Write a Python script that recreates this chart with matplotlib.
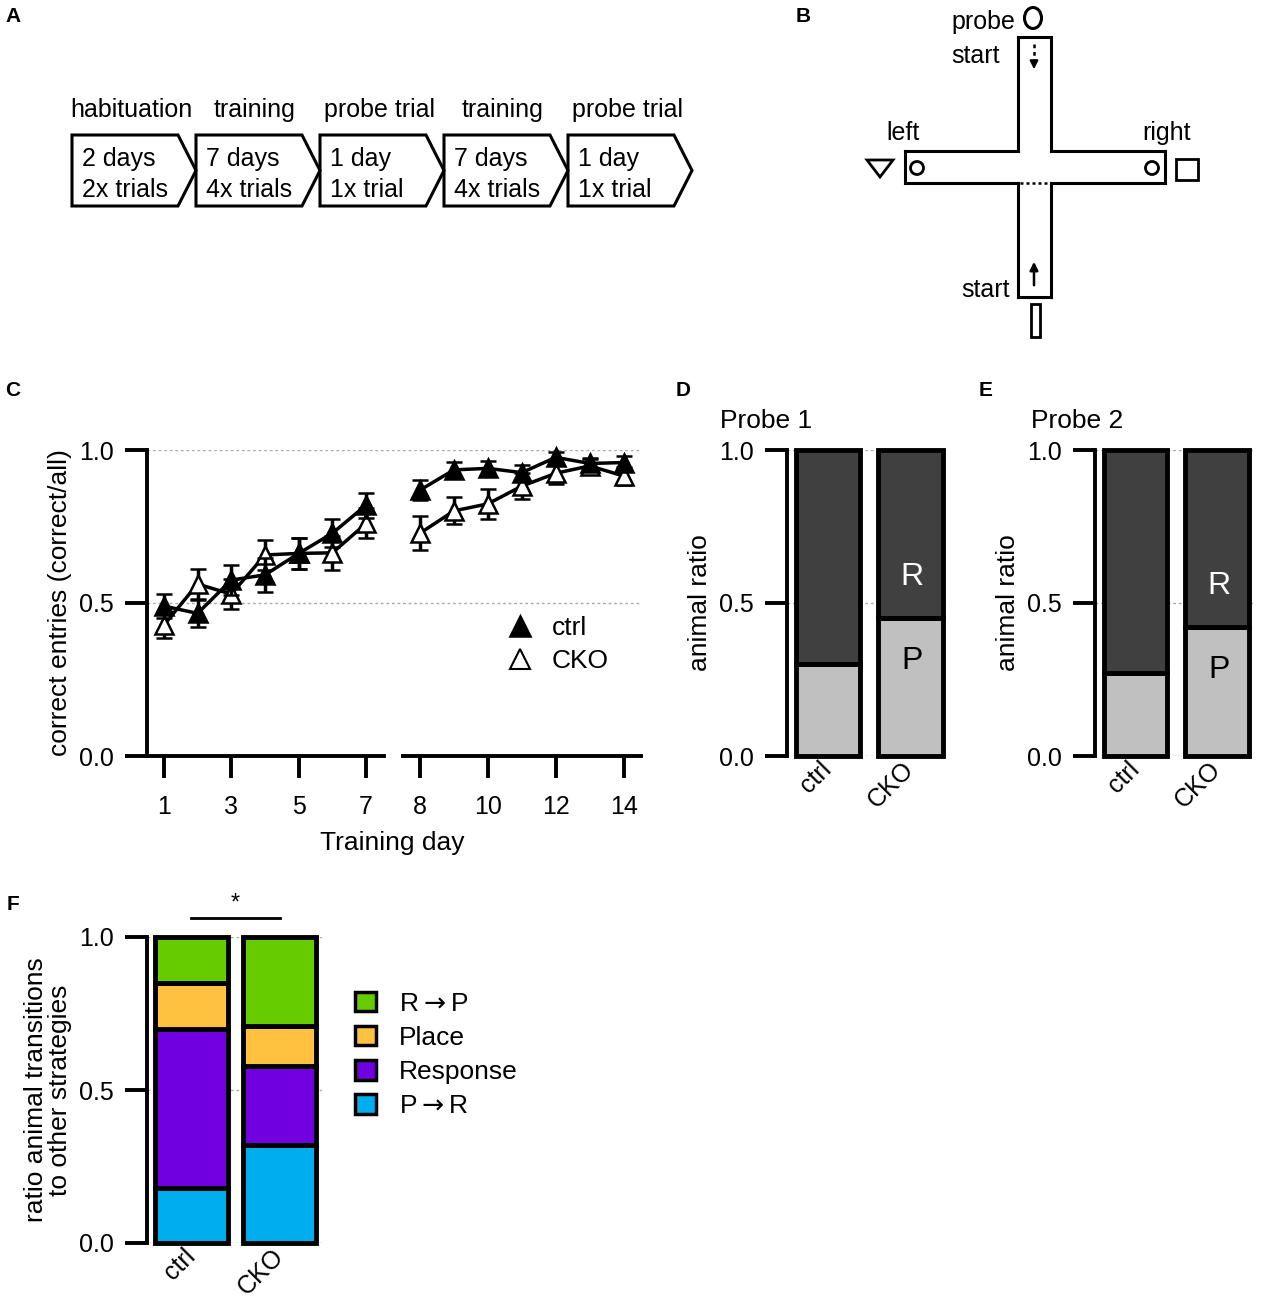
import numpy as np
import matplotlib
matplotlib.use('Agg')
import matplotlib.pyplot as plt
from matplotlib import font_manager
from matplotlib.patches import Polygon, Rectangle, Circle, Ellipse, Patch
from matplotlib.lines import Line2D

W, H = 1261, 1300

# A: protocol
stages = ['habituation', 'training', 'probe trial', 'training', 'probe trial']
durations = ['2 days', '7 days', '1 day', '7 days', '1 day']
trials = ['2x trials', '4x trials', '1x trial', '4x trials', '1x trial']

# C: correct entries per training day (mean, sem)
days = np.arange(1, 15)
ctrl_mean = np.array([0.49, 0.466, 0.575, 0.592, 0.662, 0.728, 0.82,
                      0.869, 0.935, 0.94, 0.926, 0.976, 0.956, 0.959])
ctrl_sem = np.array([0.04, 0.045, 0.049, 0.055, 0.05, 0.045, 0.041,
                     0.032, 0.027, 0.025, 0.025, 0.018, 0.015, 0.02])
cko_mean = np.array([0.428, 0.562, 0.529, 0.657, 0.662, 0.664, 0.76,
                     0.728, 0.801, 0.824, 0.882, 0.924, 0.948, 0.915])
cko_sem = np.array([0.044, 0.048, 0.05, 0.049, 0.05, 0.056, 0.049,
                    0.056, 0.044, 0.048, 0.043, 0.035, 0.025, 0.03])

# D/E: place (P) fraction, response (R) is the rest
groups = ['ctrl', 'CKO']
probe1_place = np.array([0.30, 0.45])
probe2_place = np.array([0.27, 0.42])

# F: transitions, stacked bottom -> top
strategies = ['P$\\rightarrow$R', 'Response', 'Place', 'R$\\rightarrow$P']
strategy_colors = ['#00AEEF', '#7000E0', '#FFC13F', '#66CC00']
ctrl_trans = [0.18, 0.52, 0.15, 0.15]
cko_trans = [0.32, 0.26, 0.13, 0.29]

names = {f.name for f in font_manager.fontManager.ttflist}
if 'Liberation Sans Narrow' in names:
    FONT, FS = 'Liberation Sans Narrow', 21
else:
    FONT, FS = 'Liberation Sans', 18
plt.rcParams['font.family'] = [FONT, 'DejaVu Sans']
plt.rcParams['font.size'] = FS

LW = 2.8
GRID = dict(color='#aaaaaa', lw=1.0, ls=(0, (2, 2)))


def box(x0, x1, y0, y1):
    return [x0 / W, 1 - y1 / H, (x1 - x0) / W, (y1 - y0) / H]


def fx(px):
    return px / W


def fy(py):
    return 1 - py / H


fig = plt.figure(figsize=(W / 100, H / 100), dpi=100)

# overlay in pixel coords for the two drawings
ax0 = fig.add_axes([0, 0, 1, 1])
ax0.set_xlim(0, W)
ax0.set_ylim(H, 0)
ax0.axis('off')

# ---- A
for i, (st, du, tr) in enumerate(zip(stages, durations, trials)):
    x0 = 72 + i * 124
    ax0.add_patch(Polygon([[x0, 135], [x0 + 106, 135], [x0 + 124, 170.5],
                           [x0 + 106, 206], [x0, 206]], closed=True,
                          fill=False, lw=2.2, ec='k', joinstyle='miter'))
    ax0.text(x0 + 59, 117, st, ha='center', va='baseline')
    ax0.text(x0 + 10, 166, du, ha='left', va='baseline')
    ax0.text(x0 + 10, 197, tr, ha='left', va='baseline')

# ---- B: cross maze
segs = [
    ([1018, 1018], [37, 151]), ([1051, 1051], [37, 151]), ([1018, 1051], [37, 37]),
    ([905, 1018], [151, 151]), ([1051, 1165], [151, 151]),
    ([905, 1018], [183, 183]), ([1051, 1165], [183, 183]),
    ([905, 905], [151, 183]), ([1165, 1165], [151, 183]),
    ([1018, 1018], [183, 297]), ([1051, 1051], [183, 297]), ([1018, 1051], [297, 297]),
]
for xs, ys in segs:
    ax0.plot(xs, ys, color='k', lw=2.2, solid_capstyle='projecting')
ax0.plot([1020, 1049], [183, 183], color='k', lw=1.8, ls=(0, (1.2, 1.2)))
ax0.add_patch(Circle((917, 168), 6.5, fill=False, lw=2, ec='k'))
ax0.add_patch(Circle((1152, 168), 6.5, fill=False, lw=2, ec='k'))
ax0.add_patch(Polygon([[867, 160], [893, 160], [880, 177]], closed=True, fill=False, lw=2, ec='k'))
ax0.add_patch(Rectangle((1176, 159), 22, 21, fill=False, lw=2, ec='k'))
ax0.add_patch(Ellipse((1033, 18), 17, 21, fill=False, lw=2.2, ec='k'))
ax0.add_patch(Rectangle((1031, 304), 9, 33, fill=False, lw=2, ec='k'))
ax0.plot([1034, 1034], [44, 62], color='k', lw=1.8, ls=(0, (1.5, 1.5)))
ax0.annotate('', xy=(1034, 72), xytext=(1034, 60),
             arrowprops=dict(arrowstyle='-|>', color='k', lw=1.5, mutation_scale=12))
ax0.annotate('', xy=(1034, 259), xytext=(1034, 288),
             arrowprops=dict(arrowstyle='-|>', color='k', lw=1.8, mutation_scale=12))
ax0.text(951, 29, 'probe', ha='left', va='baseline')
ax0.text(951, 63, 'start', ha='left', va='baseline')
ax0.text(903, 140, 'left', ha='center', va='baseline')
ax0.text(1166, 140, 'right', ha='center', va='baseline')
ax0.text(1010, 297, 'start', ha='right', va='baseline')

# ---- C: broken x axis
axCbg = fig.add_axes(box(147, 641, 450, 756))
axCbg.set_ylim(0, 1)
axCbg.axis('off')
for g in (0.5, 1.0):
    axCbg.axhline(g, **GRID)

axL = fig.add_axes(box(147, 384, 450, 756))
axR = fig.add_axes(box(403, 641, 450, 756))
for ax, sel, xl, xt in ((axL, days <= 7, (0.5, 7.53), [1, 3, 5, 7]),
                        (axR, days >= 8, (7.5, 14.51), [8, 10, 12, 14])):
    ax.patch.set_visible(False)
    ax.errorbar(days[sel], cko_mean[sel], yerr=cko_sem[sel], color='k', marker='^',
                mfc='white', mec='k', ms=12.5, mew=1.8, lw=2.5, capsize=6,
                capthick=2.5, elinewidth=2.5, clip_on=False, zorder=3)
    ax.errorbar(days[sel], ctrl_mean[sel], yerr=ctrl_sem[sel], color='k', marker='^',
                mfc='k', mec='k', ms=12.5, mew=1.8, lw=2.5, capsize=6,
                capthick=2.5, elinewidth=2.5, clip_on=False, zorder=4)
    ax.set_xlim(*xl)
    ax.set_ylim(0, 1)
    ax.set_xticks(xt)
    for s in ('top', 'right'):
        ax.spines[s].set_visible(False)
    ax.spines['bottom'].set_linewidth(LW)
    ax.spines['left'].set_linewidth(LW)
    ax.tick_params(axis='x', direction='out', length=16, width=LW, pad=12, labelsize=FS)
    ax.tick_params(axis='y', direction='out', length=16, width=LW, pad=8, labelsize=FS)
axL.set_yticks([0, 0.5, 1.0], ['0.0', '0.5', '1.0'])
axR.spines['left'].set_visible(False)
axR.tick_params(axis='y', left=False, labelleft=False)

hC = [Line2D([], [], marker='^', ls='none', ms=14, mfc='k', mec='k', mew=1.8),
      Line2D([], [], marker='^', ls='none', ms=14, mfc='white', mec='k', mew=1.5)]
axR.legend(hC, ['ctrl', 'CKO'], loc='upper left', bbox_to_anchor=(fx(507), fy(616)),
           bbox_transform=fig.transFigure, frameon=False, handlelength=1.0,
           handletextpad=0.7, labelspacing=0.35, borderpad=0, borderaxespad=0,
           fontsize=FS + 1)
fig.text(fx(60), fy(603), 'correct entries (correct/all)', rotation=90,
         ha='center', va='center', fontsize=FS + 1)
fig.text(fx(392), fy(843), 'Training day', ha='center', va='center', fontsize=FS + 1)


# ---- D / E / F stacked bars
def style_bar_axis(ax, xlim):
    ax.set_xlim(*xlim)
    ax.set_ylim(0, 1)
    for g in (0, 0.5, 1.0):
        ax.axhline(g, zorder=0, **GRID)
    for s in ('top', 'right', 'bottom'):
        ax.spines[s].set_visible(False)
    ax.spines['left'].set_linewidth(LW)
    ax.set_yticks([0, 0.5, 1.0], ['0.0', '0.5', '1.0'])
    ax.tick_params(axis='y', direction='out', length=16, width=LW, pad=8, labelsize=FS)
    ax.set_xticks([0, 1], groups)
    ax.tick_params(axis='x', length=0, pad=7, labelsize=FS)
    for lab in ax.get_xticklabels():
        lab.set_rotation(45)
        lab.set_ha('right')
        lab.set_va('center')
        lab.set_rotation_mode('anchor')


def probe_panel(xa, xb, xlim, place, title, tx, ylx):
    ax = fig.add_axes(box(xa, xb, 450, 756))
    xs = np.arange(len(groups))
    b1 = ax.bar(xs, place, width=0.78, color='#C0C0C0', edgecolor='k', lw=3.5, zorder=2)
    b2 = ax.bar(xs, 1 - place, bottom=place, width=0.78, color='#404040',
                edgecolor='k', lw=3.5, zorder=2)
    for p in list(b1) + list(b2):
        p.set_clip_on(False)
    style_bar_axis(ax, xlim)
    ax.text(1.02, place[1] + 0.135, 'R', color='white', ha='center', va='center', fontsize=FS + 5)
    ax.text(1.02, place[1] - 0.14, 'P', color='k', ha='center', va='center', fontsize=FS + 5)
    fig.text(fx(tx), fy(428), title, ha='left', va='baseline', fontsize=FS + 1)
    fig.text(fx(ylx), fy(603), 'animal ratio', rotation=90, ha='center', va='center',
             fontsize=FS + 1)
    return ax


probe_panel(787, 946, (-0.496, 1.43), probe1_place, 'Probe 1', 720, 700)
probe_panel(1095, 1253, (-0.5, 1.44), probe2_place, 'Probe 2', 1031, 1008)

axF = fig.add_axes(box(147, 322, 937, 1243))
xs = np.arange(len(groups))
bottom = np.zeros(len(groups))
for k, (name, col) in enumerate(zip(strategies, strategy_colors)):
    vals = np.array([ctrl_trans[k], cko_trans[k]])
    bars = axF.bar(xs, vals, bottom=bottom, width=0.83, color=col, edgecolor='k',
                   lw=3.5, zorder=2)
    for p in bars:
        p.set_clip_on(False)
    bottom += vals
style_bar_axis(axF, (-0.5, 1.48))
axF.plot([0, 1], [1.062, 1.062], color='k', lw=2, clip_on=False)
axF.text(0.5, 1.072, '*', ha='center', va='bottom', fontsize=FS - 1)
hF = [Patch(facecolor=c, edgecolor='k', lw=2.5) for c in strategy_colors][::-1]
axF.legend(hF, strategies[::-1], loc='upper left', bbox_to_anchor=(fx(355), fy(992)),
           bbox_transform=fig.transFigure, frameon=False, handlelength=0.8,
           handleheight=0.75, handletextpad=0.85, labelspacing=0.38, borderpad=0,
           borderaxespad=0, fontsize=FS + 1)
fig.text(fx(48), fy(1090), 'ratio animal transitions\nto other strategies', rotation=90,
         ha='center', va='center', linespacing=0.95, fontsize=FS + 1)

# panel letters
for letter, px, py in (('A', 13, 17), ('B', 803, 17), ('C', 13, 390),
                       ('D', 683, 390), ('E', 986, 390), ('F', 13, 905)):
    fig.text(fx(px), fy(py), letter, ha='center', va='center', fontweight='bold',
             family='Liberation Sans', fontsize=15)

fig.savefig('out.png', dpi=100)
